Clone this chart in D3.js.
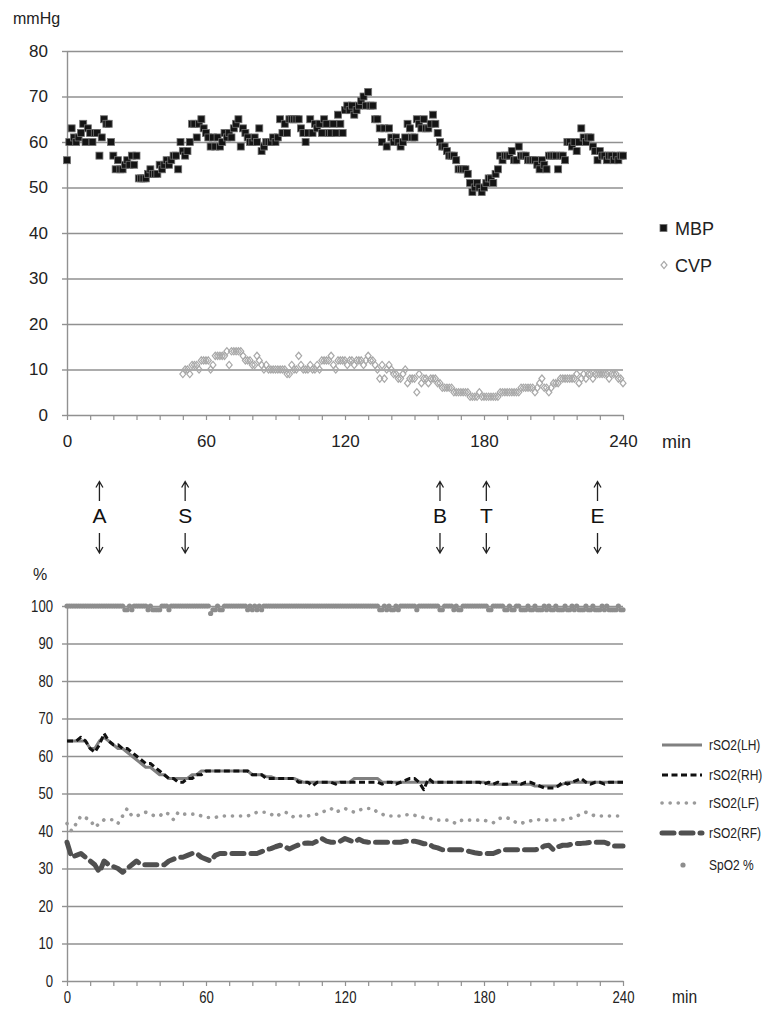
<!DOCTYPE html>
<html><head><meta charset="utf-8">
<script src="https://cdn.jsdelivr.net/npm/d3@7"></script>
<style>
html,body{margin:0;padding:0;background:#fff;}
svg{display:block;}
</style></head><body>
<svg id="chart" width="769" height="1009"></svg>
<script>
// ---------- DATA ----------
// MBP (mmHg), one value per minute, minute 0..240
const mbp = [
56,60,63,61,60,61,62,64,60,63,
62,60,62,62,57,61,65,64,64,60,
57,54,56,54,54,55,56,55,57,55,
57,52,52,52,52,53,54,53,53,53,
55,54,55,56,55,56,57,57,54,60,
58,57,58,60,64,64,61,64,65,63,
62,61,59,61,59,61,59,60,62,61,
62,61,63,64,65,59,63,62,61,60,
60,61,60,63,58,59,60,60,60,61,
60,61,65,62,64,62,65,65,65,65,
65,63,62,60,62,65,62,64,63,64,
62,65,64,62,62,64,62,66,64,62,
67,68,67,68,66,67,68,69,70,68,
71,68,68,65,65,63,60,63,59,63,
61,60,61,60,59,60,61,64,63,61,
61,65,64,63,65,63,63,64,66,64,
62,60,59,59,58,57,57,57,56,54,
54,54,54,53,51,49,50,51,50,49,
50,51,52,52,51,53,54,57,56,57,
57,57,58,56,56,59,57,57,57,56,
56,56,56,55,54,56,55,54,57,57,
57,57,54,57,57,56,60,60,59,60,
58,60,63,61,60,61,61,59,58,56,
58,57,57,56,57,57,56,57,56,57,
57];
// CVP (mmHg), one value per minute, starting at minute 50
const cvpStartMin = 50;
const cvp = [
9,10,10,9,11,11,11,10,12,12,
12,12,10,11,13,13,13,13,13,14,
11,14,14,14,14,14,13,12,12,12,
11,11,13,12,11,10,11,10,10,10,
10,10,10,10,10,9,9,11,10,10,
13,11,10,10,10,11,10,10,11,10,
12,12,12,12,13,11,10,12,12,12,
12,11,12,12,11,12,12,12,11,12,
13,12,12,11,10,8,11,8,10,11,
10,9,9,8,8,9,10,7,8,8,
8,5,9,7,8,8,7,8,8,8,
7,7,6,6,6,6,6,5,5,5,
5,5,5,5,4,4,4,4,5,4,
4,4,4,4,4,4,4,5,5,5,
5,5,5,5,5,5,6,6,6,6,
6,6,5,6,7,8,6,6,5,6,
7,7,7,8,8,8,8,8,8,8,
9,7,8,9,8,9,9,8,9,9,
9,9,9,9,8,9,9,9,8,8,
7];
// SpO2 (%), one value per minute, minute 0..240
const spo2 = [
100,100,100,100,100,100,100,100,100,100,
100,100,100,100,100,100,100,100,100,100,
100,100,100,100,100,99,99,100,99,100,
100,100,100,100,100,99,100,99,99,99,
99,100,100,100,99,100,100,100,100,100,
100,100,100,100,100,100,100,100,100,100,
100,100,98,99,99,100,99,99,100,100,
100,100,100,100,100,100,100,100,99,100,
99,100,99,100,99,100,100,100,100,100,
100,100,100,100,100,100,100,100,100,100,
100,100,100,100,100,100,100,100,100,100,
100,100,100,100,100,100,100,100,100,100,
100,100,100,100,100,100,100,100,100,100,
100,100,100,100,100,99,99,100,99,100,
99,99,100,99,100,100,100,100,100,100,
100,99,100,100,100,100,100,100,100,100,
100,99,99,100,100,100,100,99,100,99,
99,100,100,100,100,100,100,100,100,100,
100,100,99,99,100,100,100,100,100,99,
99,100,99,99,100,100,99,99,99,100,
99,99,100,99,99,99,100,99,100,99,
99,100,99,99,99,100,99,99,100,99,
100,99,99,99,100,99,99,100,99,99,
99,100,99,100,99,99,99,99,100,99,
99];
// rSO2 (%), one value every 2 minutes, minute 0..240
const rso2Step = 2;
const rso2LH = [
64,64,64,64,64,62,62,64,65,64,
63,62,62,61,60,59,58,57,57,56,
55,55,54,54,54,54,54,55,55,56,
56,56,56,56,56,56,56,56,56,56,
55,55,55,54.5,54.5,54,54,54,54,54,
53.5,53,53,53,53,53,53,53,53,53,
53,53,54,54,54,54,54,54,53,53,
53,53,53,53,53,53,53,53,53,53,
53,53,53,53,53,53,53,53,53,53,
53,52.5,52.5,52.5,52.5,52.5,52.5,52.5,52.5,52.5,
52.5,52,52,52,52,52,52,52.5,53,53,
53,53,53,53,53,53,53,53,53,53,
53];
const rso2RH = [
64,64,64,65,64,62,61,63,66,64,
63,63,62,62,61,60,59,58,58,57,
56,55,54,54,53,53,54,54,55,55,
56,56,56,56,56,56,56,56,56,56,
55,55,55,54,54,54,54,54,54,54,
53,53,53,52,53,53,53,53,52.5,53,
53,53,53,53,53,53,53,53,52.5,53,
53,52.5,53,53.5,54,54,53,51,54,53,
53,53,53,53,53,53,53,53,53,53,
52.5,53,52.5,53,52.5,52.5,53,53,52.5,53,
53,52.5,52,51.5,51.5,51.5,52,53,52.5,53,
53.5,54,53,52.5,53,53,52.5,53,53,53,
53];
const rso2LF = [
42,40,42,44,43.5,43,41,42,43,43,
43,42,44,46,44,44,44.5,45,44.5,44,
44,45,44.5,43,45,44.5,44.5,44.5,44.5,44,
43.6,43.6,43.6,44,44,44,44,44,44,44,
44.5,45,45,45,44.5,43.8,44.5,45,44.7,43.6,
44,44,44,44.3,44.5,45,45.5,46,45,45.5,
46,45.5,45,45.5,46,46,46,45,44.5,44,
44,44,44,44.3,44.4,44.2,43.8,43.6,43.4,43.2,
42.9,42.9,42.9,42.5,42,42.8,43,42.9,42.9,42.9,
42.9,42.5,42.2,43.2,43.6,43.5,43,42.2,42,42.5,
42.7,43,43,42.9,42.9,42.9,43,43,43.1,43.5,
44,44.5,45,44.5,44,44,44,44,44,44,
44];
const rso2RF = [
37,33,33.5,34,33,32,31,29,32,31,
30.5,30,29,30,31,32,31,31,31,31,
31,31,32,32.5,33,33,33.5,34,34,33,
32.5,32,33.5,34,34,34,34,34,34,34,
34,34,34.5,35,35.3,35.8,36.2,35.8,35.2,35.8,
36.3,36.7,36.8,36.7,37.3,38,37.3,37,37,37.3,
38,37.5,37,37.8,37.2,37,37,37,37,37,
37,37,37,37.3,37.3,37.3,37,36.6,36.6,35.8,
35.5,35,35,35,35,35,34.8,34.5,34.2,34,
34,34,34,34.5,35,35,35,35,35,35,
35,35,35.2,36,36.2,35,35.8,36.2,36.2,36.5,
36.7,36.7,36.8,37,37,37,37,36.5,36,36,
36];
// event markers (minutes)
const eventLabels = ["A","S","B","T","E"];
const eventMinutes = [14,51,161,181,229];
// ticks
const topYTicks = [0,10,20,30,40,50,60,70,80];
const botYTicks = [0,10,20,30,40,50,60,70,80,90,100];
const xLabelTicks = [0,60,120,180,240];
const xMinorStep = 10;
const topLegend = ["MBP","CVP"];
const botLegend = ["rSO2(LH)","rSO2(RH)","rSO2(LF)","rSO2(RF)","SpO2 %"];

// ---------- DRAW ----------
const svg = d3.select("#chart");
const GRID = "#919191";
const TXT = "#222";
const FONT = "'Liberation Sans', Arial, sans-serif";

const x = d3.scaleLinear().domain([0,240]).range([67,623]);
const yT = d3.scaleLinear().domain([0,80]).range([415,51]);
const yB = d3.scaleLinear().domain([0,100]).range([981,606]);
const xTicks = d3.range(0, 241, xMinorStep);

// narrow-looking text: horizontally condensed Liberation Sans
function narrow(sel, sx) {
  sel.each(function () {
    const t = d3.select(this);
    const tx = +t.attr("x") || 0, ty = +t.attr("y") || 0;
    const prev = t.attr("transform") || "";
    t.attr("transform", `${prev} translate(${tx},${ty}) scale(${sx},1) translate(${-tx},${-ty})`);
  });
}

function panel(y, yTicks, opt) {
  const g = svg.append("g");
  g.append("g").attr("transform", `translate(${x(0)},0)`)
    .call(d3.axisRight(y).tickValues(yTicks.filter(d => d > 0)).tickSize(x(240) - x(0)).tickFormat(""))
    .call(s => s.select(".domain").remove())
    .call(s => s.selectAll("line").attr("stroke", GRID).attr("stroke-width", 1.4));
  const ya = g.append("g").attr("transform", `translate(${x(0)},0)`)
    .call(d3.axisLeft(y).tickValues(yTicks).tickSize(5).tickSizeOuter(0).tickPadding(opt.yPad))
    .call(s => s.select(".domain").attr("stroke", GRID).attr("stroke-width", 1.4))
    .call(s => s.selectAll("line").attr("stroke", GRID).attr("stroke-width", 1.4))
    .call(s => s.selectAll("text").attr("fill", TXT).style("font-family", FONT).style("font-size", opt.yFont + "px"));
  const xa = g.append("g").attr("transform", `translate(0,${y(0)})`)
    .call(d3.axisBottom(x).tickValues(xTicks).tickSize(5).tickSizeOuter(0)
      .tickFormat(d => xLabelTicks.includes(d) ? d : "").tickPadding(opt.xPad))
    .call(s => s.select(".domain").attr("stroke", GRID).attr("stroke-width", 1.4))
    .call(s => s.selectAll("line").attr("stroke", GRID).attr("stroke-width", 1.2))
    .call(s => s.selectAll("text").attr("fill", TXT).style("font-family", FONT).style("font-size", opt.xFont + "px"));
  const mn = g.append("text").attr("x", opt.minX).attr("y", opt.minY).text("min")
    .attr("fill", TXT).style("font-family", FONT).style("font-size", opt.minFont + "px");
  g.append("text").attr("x", opt.unitX).attr("y", opt.unitY).text(opt.unit)
    .attr("fill", TXT).style("font-family", FONT).style("font-size", opt.unitFont + "px");
  if (opt.sx !== 1) {
    ya.selectAll("text").attr("transform", `scale(${opt.sx},1)`).attr("x", -opt.yPad - 5);
    ya.selectAll("text").each(function () {
      const t = d3.select(this); t.attr("transform", `translate(${-(opt.yPad + 5) * (1 - opt.sx)},0) scale(${opt.sx},1)`);
    });
    xa.selectAll("text").attr("transform", `scale(${opt.sx},1)`).attr("x", 0);
    narrow(mn, opt.sx);
  }
}

panel(yT, topYTicks, {yPad: 14, yFont: 17, xPad: 15, xFont: 17, sx: 1,
  minX: 662, minY: 448, minFont: 18, unit: "mmHg", unitX: 13, unitY: 24, unitFont: 16});
panel(yB, botYTicks, {yPad: 9, yFont: 16, xPad: 6, xFont: 16, sx: 0.82,
  minX: 672, minY: 1003, minFont: 19, unit: "%", unitX: 33, unitY: 580, unitFont: 16});

// ---- top markers ----
const diamond = "M0,-3.6L3,0L0,3.6L-3,0Z";
svg.append("g").selectAll("path").data(cvp).join("path")
  .attr("d", diamond)
  .attr("transform", (d, i) => `translate(${x(cvpStartMin + i)},${yT(d)})`)
  .attr("fill", "none").attr("stroke", "#a9a9a9").attr("stroke-width", 1.2);

svg.append("g").selectAll("rect").data(mbp).join("rect")
  .attr("x", (d, i) => x(i) - 3.5).attr("y", d => yT(d) - 3.5)
  .attr("width", 7).attr("height", 7)
  .attr("fill", "#141414").attr("stroke", "#707070").attr("stroke-width", 0.8);

// top legend
const tl = svg.append("g");
tl.append("rect").attr("x", 660).attr("y", 224.5).attr("width", 7).attr("height", 7)
  .attr("fill", "#141414").attr("stroke", "#707070").attr("stroke-width", 0.8);
tl.append("path").attr("d", diamond).attr("transform", "translate(664,265)")
  .attr("fill", "none").attr("stroke", "#a9a9a9").attr("stroke-width", 1.2);
tl.selectAll("text").data(topLegend).join("text")
  .attr("x", 675).attr("y", (d, i) => 235 + i * 37).text(d => d)
  .attr("fill", TXT).style("font-family", FONT).style("font-size", "18px");

// ---- event arrows ----
const ev = svg.append("g").selectAll("g").data(eventLabels).join("g")
  .attr("transform", (d, i) => `translate(${x(eventMinutes[i])},0)`);
ev.append("path").attr("d", "M0,482L0,501M-3.5,487.5L0,481.5L3.5,487.5")
  .attr("fill", "none").attr("stroke", TXT).attr("stroke-width", 1.3);
ev.append("path").attr("d", "M0,533L0,553M-3.5,547L0,553L3.5,547")
  .attr("fill", "none").attr("stroke", TXT).attr("stroke-width", 1.3);
ev.append("text").attr("x", 0).attr("y", 523).attr("text-anchor", "middle").text(d => d)
  .attr("fill", "#111").style("font-family", FONT).style("font-size", "21px");

// ---- bottom lines ----
const styles = [
  {stroke: "#808080", w: 3, dash: null, cap: "butt"},
  {stroke: "#111", w: 3, dash: "6,3.5", cap: "butt"},
  {stroke: "#9a9a9a", w: 3.6, dash: "0.1,8", cap: "round"},
  {stroke: "#505050", w: 5, dash: "12,7", cap: "round"}
];
const series = [rso2LH, rso2RH, rso2LF, rso2RF];
const line = d3.line().x((d, i) => x(i * rso2Step)).y(d => yB(d));
series.forEach((s, k) => {
  svg.append("path").datum(s).attr("d", line)
    .attr("fill", "none").attr("stroke", styles[k].stroke).attr("stroke-width", styles[k].w)
    .attr("stroke-dasharray", styles[k].dash).attr("stroke-linecap", styles[k].cap)
    .attr("stroke-linejoin", "round");
});
svg.append("g").selectAll("circle").data(spo2).join("circle")
  .attr("cx", (d, i) => x(i)).attr("cy", d => yB(d)).attr("r", 2.6)
  .attr("fill", "#8d8d8d");

// bottom legend
const legY = [745, 775, 803, 833, 865];
const bl = svg.append("g");
styles.forEach((st, k) => {
  bl.append("line").attr("x1", 662).attr("x2", 702).attr("y1", legY[k]).attr("y2", legY[k])
    .attr("stroke", st.stroke).attr("stroke-width", st.w)
    .attr("stroke-dasharray", st.dash).attr("stroke-linecap", st.cap);
});
bl.append("circle").attr("cx", 683).attr("cy", legY[4]).attr("r", 2.6).attr("fill", "#8d8d8d");
const lt = bl.selectAll("text").data(botLegend).join("text")
  .attr("x", 709).attr("y", (d, i) => legY[i] + 5).text(d => d)
  .attr("fill", TXT).style("font-family", FONT).style("font-size", "15px");
narrow(lt, 0.8);
</script>
</body></html>
